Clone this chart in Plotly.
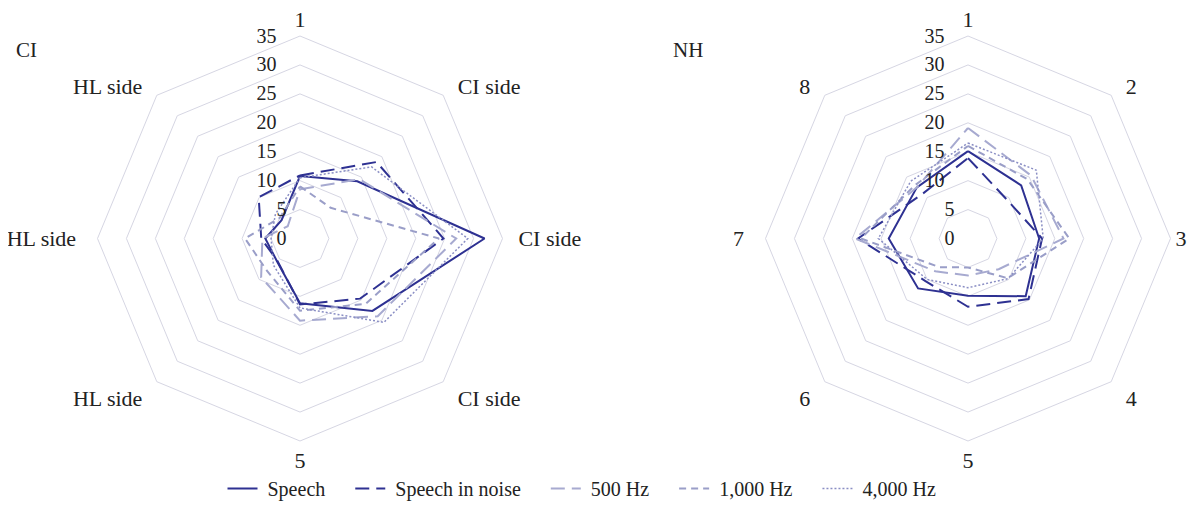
import plotly.graph_objects as go

# ---- data ----
axis_ids = ["a1", "a2", "a3", "a4", "a5", "a6", "a7", "a8"]
ci_labels = ["1", "CI side", "CI side", "CI side", "5", "HL side", "HL side", "HL side"]
nh_labels = ["1", "2", "3", "4", "5", "6", "7", "8"]
series_names = ["Speech", "Speech in noise", "500 Hz", "1,000 Hz", "4,000 Hz"]

ci_speech = [10.8, 14.0, 31.9, 17.7, 11.2, 5.6, 6.0, 4.5]
ci_noise = [10.9, 18.7, 24.8, 14.7, 11.4, 5.5, 6.7, 10.1]
ci_500 = [8.5, 14.5, 27.0, 19.0, 14.2, 9.5, 6.5, 3.0]
ci_1000 = [9.0, 7.5, 24.0, 16.0, 12.5, 8.0, 9.5, 5.0]
ci_4000 = [10.5, 17.5, 29.0, 20.5, 12.0, 6.5, 5.0, 6.0]

nh_speech = [15.1, 13.0, 12.3, 14.1, 9.9, 12.2, 13.7, 12.5]
nh_noise = [13.9, 9.5, 12.8, 14.8, 11.8, 10.4, 19.0, 11.0]
nh_500 = [19.1, 15.4, 16.5, 7.5, 6.4, 8.0, 19.5, 12.5]
nh_1000 = [16.0, 14.5, 17.5, 9.7, 5.0, 7.0, 18.5, 13.0]
nh_4000 = [16.5, 16.7, 13.0, 9.8, 8.5, 10.0, 15.5, 14.0]

radial_ticks = [0, 5, 10, 15, 20, 25, 30, 35]

# ---- styles ----
NB = "\u00a0"
styles = [
    dict(color="#2e3192", dash="solid", width=2),
    dict(color="#2e3192", dash="14px,7px", width=2),
    dict(color="#a7aad0", dash="14px,7px", width=2),
    dict(color="#9a9ec8", dash="7px,5px", width=2),
    dict(color="#8a8ec4", dash="2px,2px", width=1.5),
]
FONT = "Liberation Serif, Times New Roman, serif"
GRID = "#d6d6e3"
FS = 20
FA = 22
# tick text padded so labels sit left of the vertical radial axis
radial_text = [str(v) + NB * (2 if v < 10 else 4) for v in radial_ticks]
legend_text = [NB + n + NB * 4 for n in series_names]


def pad_angular(labels, right_pad):
    # add breathing room between polygon vertices and the labels
    out = []
    for i, t in enumerate(labels):
        if i in (1, 3):
            out.append(NB * 2 + t)
        elif i == 2:
            out.append(NB * right_pad + t)
        elif i in (5, 7):
            out.append(t + NB * 2)
        elif i == 6:
            out.append(t + NB * 3)
        else:
            out.append(t)
    return out


fig = go.Figure()

ci_data = [ci_speech, ci_noise, ci_500, ci_1000, ci_4000]
nh_data = [nh_speech, nh_noise, nh_500, nh_1000, nh_4000]

for i, vals in enumerate(ci_data):
    fig.add_trace(go.Scatterpolar(
        r=vals + vals[:1], theta=axis_ids + axis_ids[:1], mode="lines",
        name=legend_text[i], line=styles[i], subplot="polar", showlegend=True,
        legendgroup=series_names[i], hoverinfo="skip"))
for i, vals in enumerate(nh_data):
    fig.add_trace(go.Scatterpolar(
        r=vals + vals[:1], theta=axis_ids + axis_ids[:1], mode="lines",
        name=legend_text[i], line=styles[i], subplot="polar2", showlegend=False,
        legendgroup=series_names[i], hoverinfo="skip"))


def polar_layout(domain_x, labels, right_pad):
    return dict(
        domain=dict(x=domain_x, y=[0, 1]),
        gridshape="linear",
        bgcolor="white",
        radialaxis=dict(
            range=[0, 35], tickmode="array", tickvals=radial_ticks,
            ticktext=radial_text, angle=90, tickangle=90,
            side="counterclockwise",
            showline=False, ticks="", gridcolor=GRID, gridwidth=1,
            tickfont=dict(family=FONT, size=FS, color="#222"),
        ),
        angularaxis=dict(
            type="category", categoryorder="array", categoryarray=axis_ids,
            tickmode="array", tickvals=axis_ids,
            ticktext=pad_angular(labels, right_pad),
            rotation=90, direction="clockwise", showgrid=False,
            showline=True, linecolor=GRID, linewidth=1, ticks="",
            tickfont=dict(family=FONT, size=FA, color="#222"),
        ),
    )


# page has an 8px body margin: figure is placed at (8, 8)
W, H = 1189, 500
R = 205
CX1, CX2 = 292, 960
fig.update_layout(
    width=W, height=H,
    margin=dict(l=0, r=0, t=28, b=62),
    paper_bgcolor="white",
    font=dict(family=FONT, size=FS, color="#222"),
    polar=polar_layout([(CX1 - R) / W, (CX1 + R) / W], ci_labels, 2),
    polar2=polar_layout([(CX2 - R) / W, (CX2 + R) / W], nh_labels, 0),
    legend=dict(orientation="h", x=584 / W, xanchor="center", y=-0.118,
                yanchor="middle", font=dict(family=FONT, size=FS),
                tracegroupgap=0),
    annotations=[
        dict(text="CI", x=6 / W, y=0.965, xref="paper", yref="paper",
             xanchor="left", yanchor="middle", showarrow=False,
             font=dict(family=FONT, size=21)),
        dict(text="NH", x=663 / W, y=0.965, xref="paper", yref="paper",
             xanchor="left", yanchor="middle", showarrow=False,
             font=dict(family=FONT, size=21)),
    ],
)

fig.write_html("out.html")
